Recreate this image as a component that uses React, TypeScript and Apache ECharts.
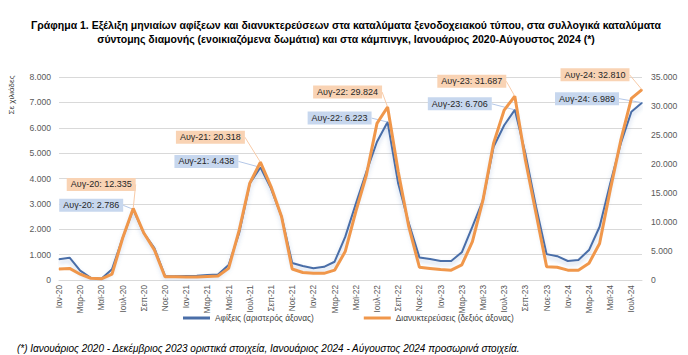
import React, { useEffect, useRef } from "react";
import * as echarts from "echarts";

const categories = [
  "Ιαν-20","Φεβ-20","Μαρ-20","Απρ-20","Μαϊ-20","Ιουν-20","Ιουλ-20","Αυγ-20","Σεπ-20","Οκτ-20","Νοε-20","Δεκ-20",
  "Ιαν-21","Φεβ-21","Μαρ-21","Απρ-21","Μαϊ-21","Ιουν-21","Ιουλ-21","Αυγ-21","Σεπ-21","Οκτ-21","Νοε-21","Δεκ-21",
  "Ιαν-22","Φεβ-22","Μαρ-22","Απρ-22","Μαϊ-22","Ιουν-22","Ιουλ-22","Αυγ-22","Σεπ-22","Οκτ-22","Νοε-22","Δεκ-22",
  "Ιαν-23","Φεβ-23","Μαρ-23","Απρ-23","Μαϊ-23","Ιουν-23","Ιουλ-23","Αυγ-23","Σεπ-23","Οκτ-23","Νοε-23","Δεκ-23",
  "Ιαν-24","Φεβ-24","Μαρ-24","Απρ-24","Μαϊ-24","Ιουν-24","Ιουλ-24","Αυγ-24",
];

// Αφίξεις (χιλιάδες) – αριστερός άξονας
const arrivals = [
  820, 880, 370, 90, 50, 420, 1650, 2786, 1850, 1260, 160, 150,
  160, 170, 200, 220, 590, 1850, 3800, 4438, 3600, 2500, 670, 550,
  460, 520, 720, 1700, 3000, 4260, 5450, 6223, 3800, 2240, 890, 830,
  750, 750, 1090, 2100, 3150, 5250, 6100, 6706, 4990, 2900, 1020, 940,
  750, 790, 1180, 2100, 3800, 5380, 6630, 6989,
];

// Διανυκτερεύσεις (χιλιάδες) – δεξιός άξονας
const stays = [
  1900, 2000, 1000, 300, 200, 1000, 7200, 12335, 8100, 5200, 570, 550,
  500, 500, 600, 700, 2000, 8600, 16700, 20318, 16100, 10900, 1900, 1300,
  1150, 1150, 1700, 4900, 11800, 18100, 27000, 29824, 18700, 9200, 2200, 2000,
  1800, 1700, 2600, 6600, 13800, 23600, 29300, 31687, 20700, 11500, 2300, 2200,
  1700, 1700, 2900, 6300, 15500, 24100, 31300, 32810,
];

const labelledIdx = [7, 19, 31, 43, 55];

const leftTicks = { min: 0, max: 8000, interval: 1000 };
const rightTicks = { min: 0, max: 35000, interval: 5000 };

// label box offsets (px) relative to the point
const arrOffsets: Record<number, [number, number]> = {
  7: [-42, -4], 19: [-54, -6], 31: [-48, -4], 43: [-55, -6], 55: [-55, -4],
};
const stayOffsets: Record<number, [number, number]> = {
  7: [-32, -24], 19: [-50, -25], 31: [-40, -15], 43: [-43, -15], 55: [-47, -15],
};

const fmt = (v: number) => String(Math.round(v)).replace(/\B(?=(\d{3})+(?!\d))/g, ".");

const FONT = "'Liberation Sans', Arial, sans-serif";

export default function App() {
  const ref = useRef<HTMLDivElement>(null);
  useEffect(() => {
    if (!ref.current) return;
    const chart = echarts.init(ref.current, null, { renderer: "svg" });

    const mkData = (arr: number[]) =>
      arr.map((v, i) => (labelledIdx.includes(i) ? { value: v, label: { show: true } } : v));

    const mkLayout = (offs: Record<number, [number, number]>) => (p: any) => {
      const o = offs[p.dataIndex] || [0, 0];
      const cx = p.rect.x + p.rect.width / 2;
      const cy = p.rect.y + p.rect.height / 2;
      return { x: cx + o[0], y: cy + o[1], align: "center", verticalAlign: "middle" };
    };

    chart.setOption({
      animation: false,
      backgroundColor: "#ffffff",
      textStyle: { fontFamily: FONT },
      title: [
        {
          text:
            "Γράφημα 1. Εξέλιξη μηνιαίων αφίξεων και διανυκτερεύσεων στα καταλύματα ξενοδοχειακού τύπου, στα συλλογικά καταλύματα\nσύντομης διαμονής (ενοικιαζόμενα δωμάτια) και στα κάμπινγκ, Ιανουάριος 2020-Αύγουστος 2024 (*)",
          left: 346,
          top: 18,
          padding: 0,
          textAlign: "center",
          textStyle: { fontSize: 10.5, fontWeight: "bold", color: "#000", lineHeight: 14, fontFamily: FONT },
        },
        {
          text: "(*) Ιανουάριος 2020 - Δεκέμβριος 2023 οριστικά στοιχεία, Ιανουάριος 2024 - Αύγουστος 2024 προσωρινά στοιχεία.",
          left: 17,
          top: 343,
          padding: 0,
          textStyle: { fontSize: 10, fontStyle: "italic", fontWeight: "normal", color: "#000", fontFamily: FONT },
        },
      ],
      graphic: [
        {
          type: "text",
          x: 11,
          y: 95,
          rotation: Math.PI / 2,
          style: { text: "Σε χιλιάδες", fontSize: 8, fill: "#404040", fontFamily: FONT, align: "center", verticalAlign: "middle" },
        },
      ],
      legend: {
        left: 183,
        top: 314,
        padding: 0,
        icon: "rect",
        itemWidth: 27,
        itemHeight: 3,
        itemGap: 50,
        textStyle: { fontSize: 8.3, color: "#404040", fontFamily: FONT },
        data: ["Αφίξεις (αριστερός άξονας)", "Διανυκτερεύσεις (δεξιός άξονας)"],
      },
      grid: { left: 59, right: 46, top: 77, bottom: 75 },
      xAxis: {
        type: "category",
        data: categories,
        boundaryGap: false,
        axisLine: { lineStyle: { color: "#d9d9d9" } },
        axisTick: { show: false },
        axisLabel: { interval: 1, rotate: 90, fontSize: 8.3, color: "#595959", margin: 5, fontFamily: FONT },
        splitLine: { show: false },
      },
      yAxis: [
        {
          type: "value",
          ...leftTicks,
          axisLine: { show: false },
          axisTick: { show: false },
          axisLabel: { fontSize: 8.6, color: "#595959", margin: 8, formatter: (v: number) => fmt(v), fontFamily: FONT },
          splitLine: { lineStyle: { color: "#d9d9d9", width: 1 } },
        },
        {
          type: "value",
          ...rightTicks,
          axisLine: { show: false },
          axisTick: { show: false },
          axisLabel: { fontSize: 8.6, color: "#595959", margin: 9, formatter: (v: number) => fmt(v), fontFamily: FONT },
          splitLine: { show: false },
        },
      ],
      series: [
        {
          name: "Αφίξεις (αριστερός άξονας)",
          type: "line",
          yAxisIndex: 0,
          data: mkData(arrivals),
          showSymbol: true,
          showAllSymbol: true,
          symbol: "circle",
          symbolSize: 1,
          itemStyle: { color: "#4a6ea8" },
          lineStyle: {
            color: "#4a6ea8",
            width: 2,
            shadowColor: "rgba(80,120,190,0.35)",
            shadowBlur: 4,
            shadowOffsetY: 3,
          },
          label: {
            show: false,
            formatter: (p: any) => `${p.name}: ${fmt(p.value)}`,
            backgroundColor: "#c7d7ee",
            color: "#262626",
            fontSize: 9,
            padding: [2, 4, 2, 4],
            fontFamily: FONT,
          },
          labelLine: { show: true, lineStyle: { color: "#b4c7e7", width: 1 } },
          labelLayout: mkLayout(arrOffsets),
          z: 2,
        },
        {
          name: "Διανυκτερεύσεις (δεξιός άξονας)",
          type: "line",
          yAxisIndex: 1,
          data: mkData(stays),
          showSymbol: true,
          showAllSymbol: true,
          symbol: "circle",
          symbolSize: 1,
          itemStyle: { color: "#f0974b" },
          lineStyle: { color: "#f0974b", width: 3 },
          label: {
            show: false,
            formatter: (p: any) => `${p.name}: ${fmt(p.value)}`,
            backgroundColor: "#f9d3b4",
            color: "#262626",
            fontSize: 9,
            padding: [2, 4, 2, 4],
            fontFamily: FONT,
          },
          labelLine: { show: true, lineStyle: { color: "#f8cba8", width: 1 } },
          labelLayout: mkLayout(stayOffsets),
          z: 3,
        },
      ],
    });
    return () => chart.dispose();
  }, []);
  return <div ref={ref} style={{ width: 688, height: 355, position: "absolute", left: 0, top: 0 }} />;
}
